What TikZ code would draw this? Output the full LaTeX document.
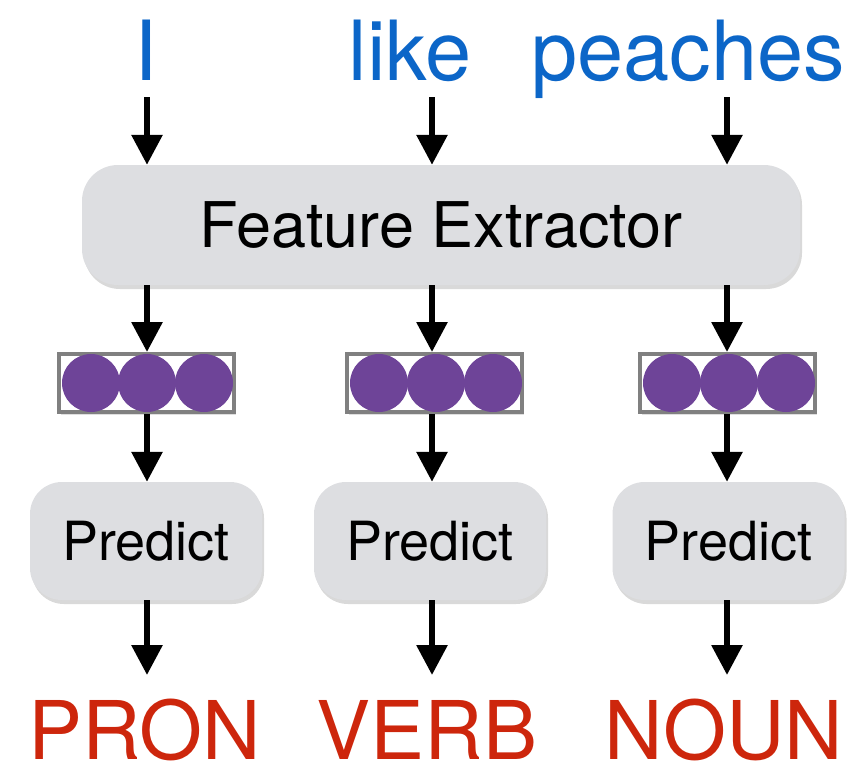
\documentclass[tikz,border=0pt]{standalone}
\usepackage{fontspec}
\setmainfont{TeX Gyre Heros}
\usetikzlibrary{arrows.meta,shadows}
\definecolor{wordblue}{RGB}{12,102,200}
\definecolor{tagred}{RGB}{205,38,12}
\definecolor{boxgray}{RGB}{221,222,225}
\definecolor{vecpurple}{RGB}{110,68,152}
\definecolor{vecframe}{RGB}{128,128,128}
\begin{document}
\begin{tikzpicture}[x=1pt,y=-1pt,
  flow/.style={line width=6pt,-{Triangle[width=30pt,length=30pt]}},
  procbox/.style={fill=boxgray,inner sep=0pt,
    drop shadow={shadow xshift=2pt,shadow yshift=-4pt,opacity=0.3}},
  febox/.style={procbox,rounded corners=36pt,minimum width=718pt,minimum height=120pt,
    font=\fontsize{63}{70}\selectfont},
  predbox/.style={procbox,rounded corners=32pt,minimum width=232pt,minimum height=118pt,
    font=\fontsize{54}{60}\selectfont},
  vecbox/.style={draw=vecframe,line width=4pt,fill=white,minimum width=175pt,minimum height=58pt,inner sep=0pt,
    drop shadow={shadow xshift=2pt,shadow yshift=-3pt,opacity=0.25}},
  vdot/.style={circle,fill=vecpurple,minimum size=58pt,inner sep=0pt},
  word/.style={text=wordblue,anchor=base,inner sep=0pt,text depth=17pt,font=\fontsize{83}{90}\selectfont},
  tag/.style={text=tagred,anchor=base,inner sep=0pt,font=\fontsize{81}{90}\selectfont}]
\useasboundingbox (0,0) rectangle (864,766);

% columns
\coordinate (cA) at (147,0);
\coordinate (cB) at (432,0);
\coordinate (cC) at (727,0);

% input words
\node[word] (w1) at (146,80) {I};
\node[word] (w2) at (410,80) {like};
\node[word] (w3) at (688,80) {peaches};

% feature extractor
\node[febox] (fe) at (441,225) {Feature Extractor};

% vectors
\node[vecbox] (v1) at (146.5,383) {};
\node[vecbox] (v2) at (434,383) {};
\node[vecbox] (v3) at (727,383) {};
\node[vdot] (d11) at (91,383) {};
\node[vdot] (d12) at (147,383) {};
\node[vdot] (d13) at (204,383) {};
\node[vdot] (d21) at (379,383) {};
\node[vdot] (d22) at (436,383) {};
\node[vdot] (d23) at (493,383) {};
\node[vdot] (d31) at (672,383) {};
\node[vdot] (d32) at (729,383) {};
\node[vdot] (d33) at (786,383) {};

% predict boxes
\node[predbox] (p1) at (146,541) {Predict};
\node[predbox] (p2) at (430,541) {Predict};
\node[predbox] (p3) at (728.5,541) {Predict};

% output tags
\node[tag] (t1) at (145,759) {PRON};
\node[tag] (t2) at (427,759) {VERB};
\node[tag] (t3) at (724,759) {NOUN};

% connectors
\draw[flow] (w1.south -| cA) -- (fe.north -| cA);
\draw[flow] (w2.south -| cB) -- (fe.north -| cB);
\draw[flow] (w3.south -| cC) -- (fe.north -| cC);

\draw[flow] (fe.south -| cA) -- (v1.north -| cA);
\draw[flow] (fe.south -| cB) -- (v2.north -| cB);
\draw[flow] (fe.south -| cC) -- (v3.north -| cC);

\draw[flow] (v1.south -| cA) -- (p1.north -| cA);
\draw[flow] (v2.south -| cB) -- (p2.north -| cB);
\draw[flow] (v3.south -| cC) -- (p3.north -| cC);

\coordinate (o1) at (147,675);
\draw[flow] (p1.south -| cA) -- (o1);
\coordinate (o2) at (432,675);
\draw[flow] (p2.south -| cB) -- (o2);
\coordinate (o3) at (727,675);
\draw[flow] (p3.south -| cC) -- (o3);
\end{tikzpicture}
\end{document}
